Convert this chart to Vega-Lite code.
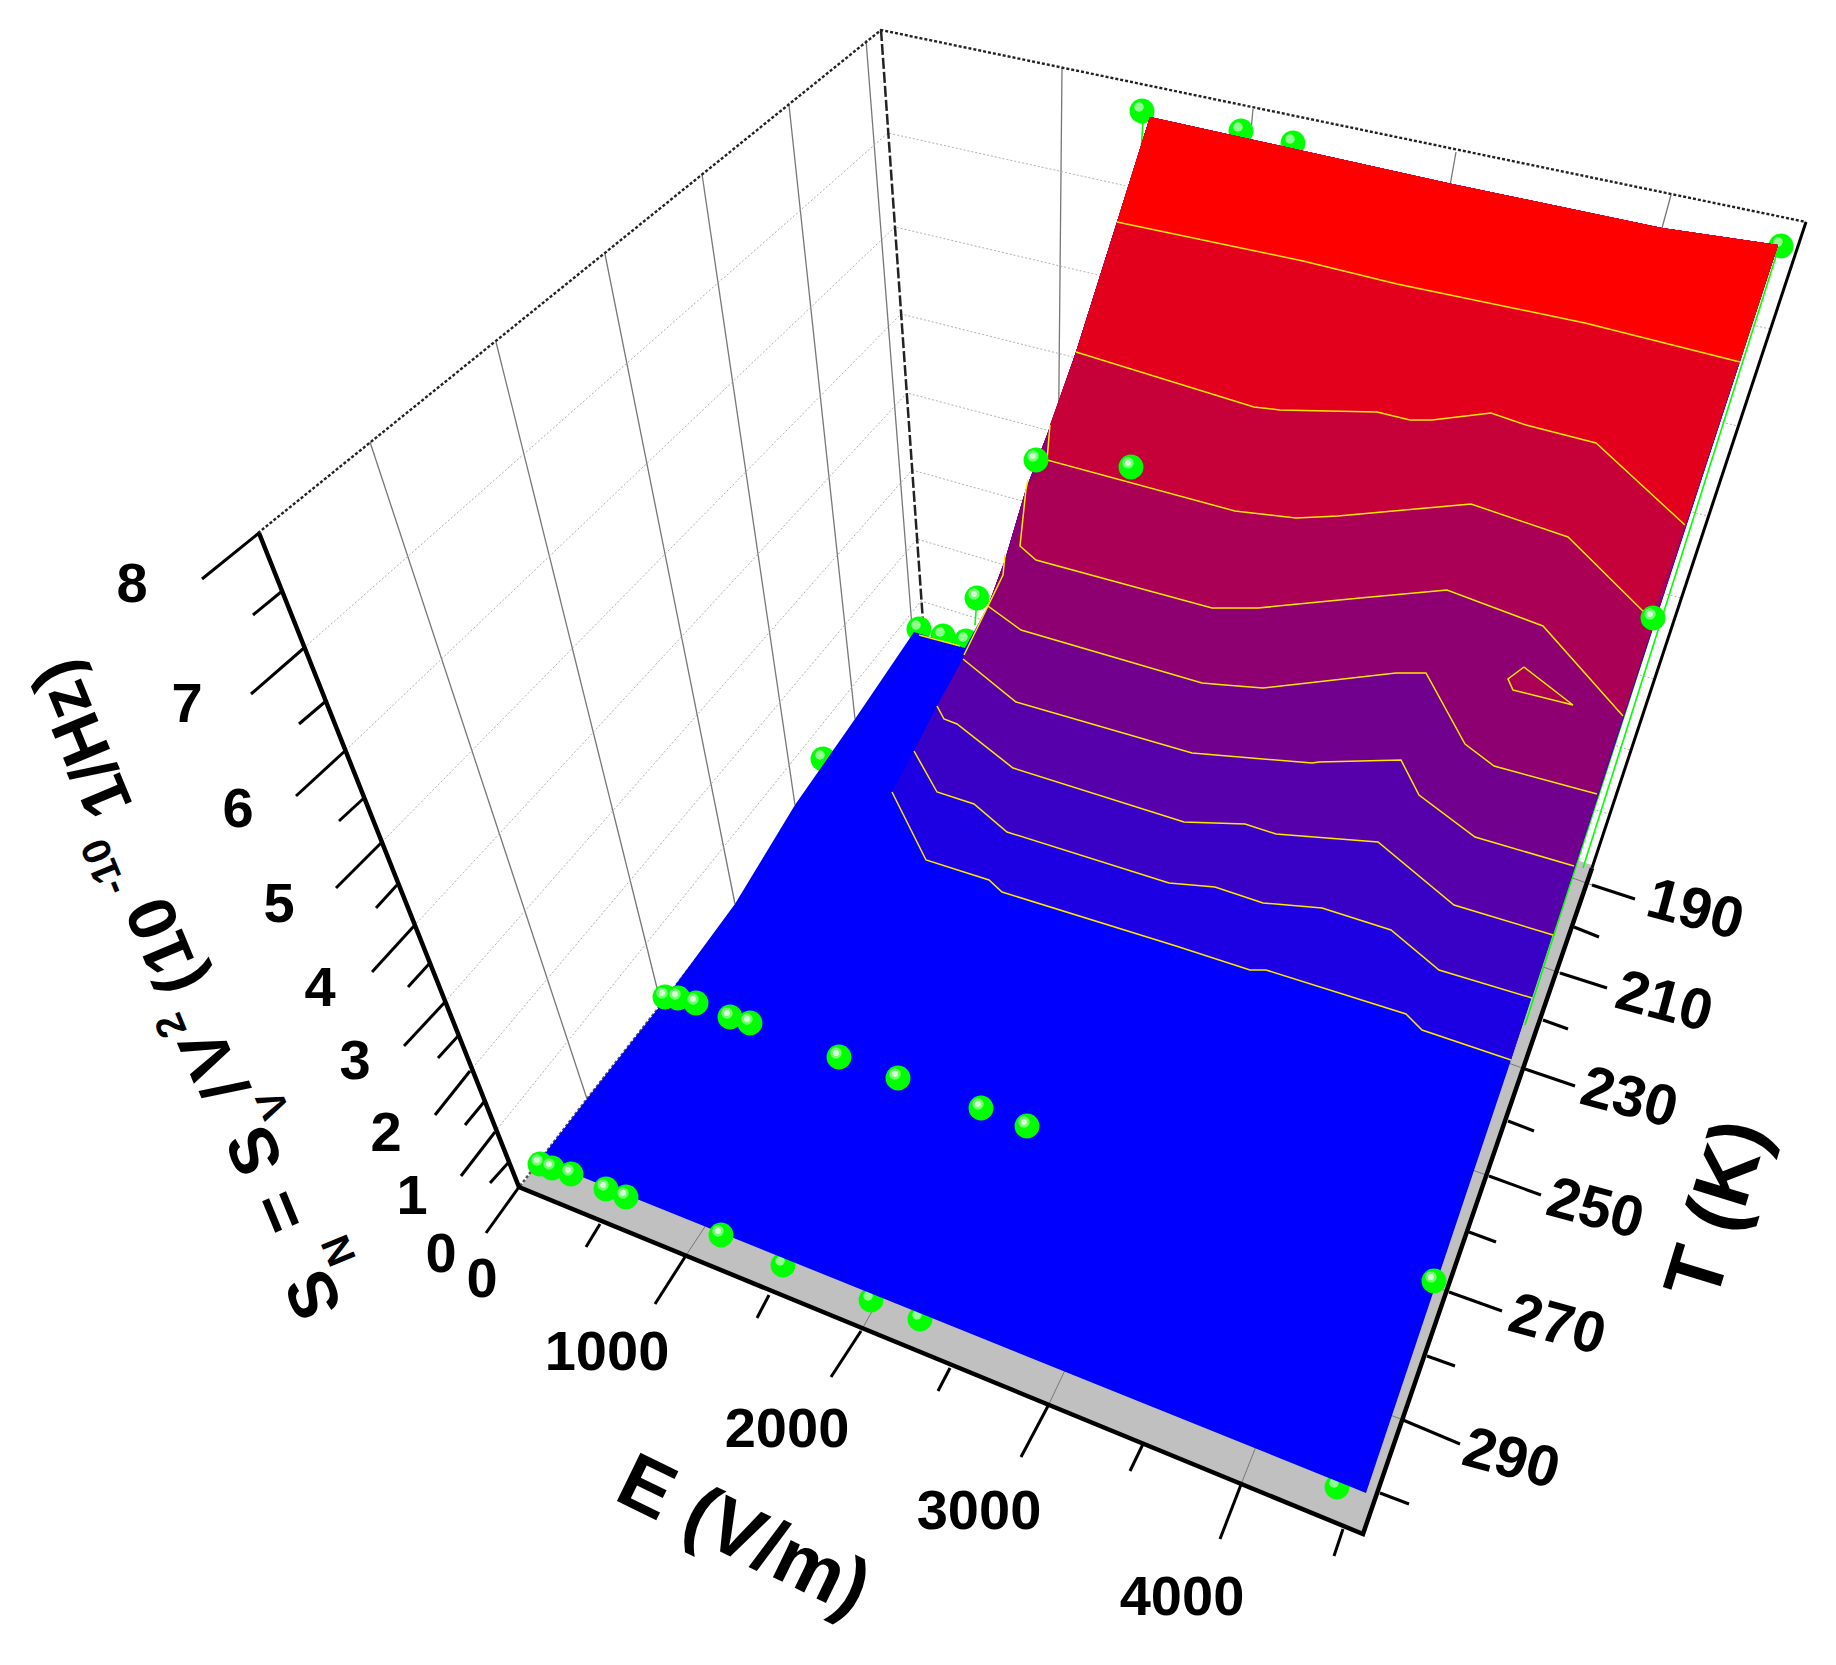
{
"$schema":"https://vega.github.io/schema/vega-lite/v6.json",
"width":1836,"height":1665,"padding":0,
"autosize":{"type":"fit","contains":"padding"},
"background":"#ffffff",
"config":{"view":{"stroke":null}},
"datasets":{
"wallGrid":[
{"id":"t290","px":370,"py":442},{"id":"t290","px":587,"py":1099},
{"id":"t270","px":496,"py":342},{"id":"t270","px":660,"py":1000},
{"id":"t250","px":605,"py":254},{"id":"t250","px":735,"py":904},
{"id":"t230","px":702,"py":174},{"id":"t230","px":795,"py":805},
{"id":"t210","px":789,"py":105},{"id":"t210","px":855,"py":719},
{"id":"t190","px":866,"py":40},{"id":"t190","px":913,"py":640},
{"id":"e1000","px":1062,"py":68},{"id":"e1000","px":1056,"py":692},
{"id":"e2000","px":1253,"py":109},{"id":"e2000","px":1195,"py":737},
{"id":"e3000","px":1456,"py":152},{"id":"e3000","px":1343,"py":785},
{"id":"e4000","px":1671,"py":195},{"id":"e4000","px":1497,"py":834}],
"wallDots":[
{"id":"s7","px":304,"py":648},{"id":"s7","px":888,"py":133},{"id":"s7","px":1770,"py":329},
{"id":"s6","px":346,"py":750},{"id":"s6","px":895,"py":227},{"id":"s6","px":1738,"py":426},
{"id":"s5","px":382,"py":842},{"id":"s5","px":901,"py":314},{"id":"s5","px":1708,"py":516},
{"id":"s4","px":414,"py":926},{"id":"s4","px":907,"py":393},{"id":"s4","px":1681,"py":598},
{"id":"s3","px":445,"py":1002},{"id":"s3","px":912,"py":470},{"id":"s3","px":1654,"py":679},
{"id":"s2","px":470,"py":1071},{"id":"s2","px":917,"py":539},{"id":"s2","px":1630,"py":750},
{"id":"s1","px":495,"py":1132},{"id":"s1","px":921,"py":601},{"id":"s1","px":1609,"py":814}],
"floorGrid":[
{"id":"e1","px":685,"py":1257},{"id":"e1","px":1056,"py":692},
{"id":"e2","px":861,"py":1331},{"id":"e2","px":1195,"py":737},
{"id":"e3","px":1048,"py":1406},{"id":"e3","px":1343,"py":785},
{"id":"e4","px":1242,"py":1482},{"id":"e4","px":1497,"py":834},
{"id":"t1","px":587,"py":1099},{"id":"t1","px":1403,"py":1420},
{"id":"t2","px":660,"py":1000},{"id":"t2","px":1449,"py":1292},
{"id":"t3","px":735,"py":904},{"id":"t3","px":1489,"py":1176},
{"id":"t4","px":795,"py":805},{"id":"t4","px":1525,"py":1069},
{"id":"t5","px":855,"py":719},{"id":"t5","px":1560,"py":973},
{"id":"t6","px":913,"py":640},{"id":"t6","px":1592,"py":885}],
"ticks":[
{"id":"z0","px":519,"py":1187},{"id":"z0","px":486,"py":1233},
{"id":"z1","px":495,"py":1132},{"id":"z1","px":461,"py":1176},
{"id":"z2","px":470,"py":1071},{"id":"z2","px":435,"py":1115},
{"id":"z3","px":445,"py":1002},{"id":"z3","px":404,"py":1046},
{"id":"z4","px":414,"py":926},{"id":"z4","px":372,"py":972},
{"id":"z5","px":382,"py":842},{"id":"z5","px":336,"py":888},
{"id":"z6","px":346,"py":750},{"id":"z6","px":296,"py":796},
{"id":"z7","px":304,"py":648},{"id":"z7","px":251,"py":694},
{"id":"z8","px":259,"py":533},{"id":"z8","px":202,"py":579},
{"id":"zm1","px":508,"py":1163},{"id":"zm1","px":490,"py":1183},
{"id":"zm2","px":484,"py":1102},{"id":"zm2","px":465,"py":1125},
{"id":"zm3","px":459,"py":1035},{"id":"zm3","px":438,"py":1058},
{"id":"zm4","px":429,"py":964},{"id":"zm4","px":408,"py":987},
{"id":"zm5","px":397,"py":885},{"id":"zm5","px":376,"py":908},
{"id":"zm6","px":364,"py":798},{"id":"zm6","px":339,"py":821},
{"id":"zm7","px":326,"py":701},{"id":"zm7","px":299,"py":724},
{"id":"zm8","px":281,"py":592},{"id":"zm8","px":253,"py":615},
{"id":"e1","px":685,"py":1257},{"id":"e1","px":655,"py":1304},
{"id":"e2","px":861,"py":1331},{"id":"e2","px":831,"py":1377},
{"id":"e3","px":1048,"py":1406},{"id":"e3","px":1021,"py":1457},
{"id":"e4","px":1242,"py":1482},{"id":"e4","px":1220,"py":1539},
{"id":"em1","px":600,"py":1224},{"id":"em1","px":586,"py":1247},
{"id":"em2","px":769,"py":1295},{"id":"em2","px":757,"py":1318},
{"id":"em3","px":950,"py":1368},{"id":"em3","px":938,"py":1391},
{"id":"em4","px":1143,"py":1444},{"id":"em4","px":1130,"py":1471},
{"id":"em5","px":1343,"py":1529},{"id":"em5","px":1334,"py":1556},
{"id":"t190","px":1592,"py":885},{"id":"t190","px":1635,"py":899},
{"id":"t210","px":1560,"py":973},{"id":"t210","px":1607,"py":988},
{"id":"t230","px":1525,"py":1069},{"id":"t230","px":1575,"py":1086},
{"id":"t250","px":1489,"py":1176},{"id":"t250","px":1541,"py":1195},
{"id":"t270","px":1449,"py":1292},{"id":"t270","px":1502,"py":1311},
{"id":"t290","px":1403,"py":1420},{"id":"t290","px":1460,"py":1444},
{"id":"tm1","px":1574,"py":927},{"id":"tm1","px":1599,"py":937},
{"id":"tm2","px":1543,"py":1020},{"id":"tm2","px":1568,"py":1029},
{"id":"tm3","px":1508,"py":1121},{"id":"tm3","px":1534,"py":1131},
{"id":"tm4","px":1469,"py":1232},{"id":"tm4","px":1496,"py":1242},
{"id":"tm5","px":1427,"py":1356},{"id":"tm5","px":1455,"py":1366},
{"id":"tm6","px":1380,"py":1493},{"id":"tm6","px":1409,"py":1504}],
"surface":[
{"p":0,"level":0,"px":540,"py":1160},{"p":0,"level":0,"px":1366,"py":1493},{"p":0,"level":0,"px":1511,"py":1060},{"p":0,"level":0,"px":1778,"py":245},{"p":0,"level":0,"px":1662,"py":228},{"p":0,"level":0,"px":1452,"py":184},{"p":0,"level":0,"px":1150,"py":117},{"p":0,"level":0,"px":1117,"py":222},{"p":0,"level":0,"px":1076,"py":352},{"p":0,"level":0,"px":1047,"py":435},{"p":0,"level":0,"px":1026,"py":489},{"p":0,"level":0,"px":1005,"py":560},{"p":0,"level":0,"px":988,"py":606},{"p":0,"level":0,"px":965,"py":648},{"p":0,"level":0,"px":914,"py":632},{"p":0,"level":0,"px":855,"py":719},{"p":0,"level":0,"px":795,"py":805},{"p":0,"level":0,"px":735,"py":904},{"p":0,"level":0,"px":660,"py":1006},{"p":0,"level":0,"px":587,"py":1099},
{"p":1,"level":1,"px":892,"py":792},{"p":1,"level":1,"px":926,"py":860},{"p":1,"level":1,"px":989,"py":880},{"p":1,"level":1,"px":1002,"py":892},{"p":1,"level":1,"px":1176,"py":946},{"p":1,"level":1,"px":1250,"py":970},{"p":1,"level":1,"px":1266,"py":970},{"p":1,"level":1,"px":1406,"py":1014},{"p":1,"level":1,"px":1422,"py":1030},{"p":1,"level":1,"px":1511,"py":1060},{"p":1,"level":1,"px":1778,"py":245},{"p":1,"level":1,"px":1662,"py":228},{"p":1,"level":1,"px":1452,"py":184},{"p":1,"level":1,"px":1150,"py":117},{"p":1,"level":1,"px":1117,"py":222},{"p":1,"level":1,"px":1076,"py":352},{"p":1,"level":1,"px":1047,"py":435},{"p":1,"level":1,"px":1026,"py":489},{"p":1,"level":1,"px":1005,"py":560},{"p":1,"level":1,"px":988,"py":606},{"p":1,"level":1,"px":963,"py":659},{"p":1,"level":1,"px":937,"py":706},{"p":1,"level":1,"px":914,"py":751},
{"p":2,"level":2,"px":914,"py":751},{"p":2,"level":2,"px":937,"py":792},{"p":2,"level":2,"px":974,"py":804},{"p":2,"level":2,"px":1007,"py":832},{"p":2,"level":2,"px":1169,"py":883},{"p":2,"level":2,"px":1215,"py":887},{"p":2,"level":2,"px":1263,"py":903},{"p":2,"level":2,"px":1322,"py":908},{"p":2,"level":2,"px":1391,"py":930},{"p":2,"level":2,"px":1439,"py":970},{"p":2,"level":2,"px":1532,"py":998},{"p":2,"level":2,"px":1778,"py":245},{"p":2,"level":2,"px":1662,"py":228},{"p":2,"level":2,"px":1452,"py":184},{"p":2,"level":2,"px":1150,"py":117},{"p":2,"level":2,"px":1117,"py":222},{"p":2,"level":2,"px":1076,"py":352},{"p":2,"level":2,"px":1047,"py":435},{"p":2,"level":2,"px":1026,"py":489},{"p":2,"level":2,"px":1005,"py":560},{"p":2,"level":2,"px":988,"py":606},{"p":2,"level":2,"px":963,"py":659},{"p":2,"level":2,"px":937,"py":706},
{"p":3,"level":3,"px":937,"py":706},{"p":3,"level":3,"px":944,"py":719},{"p":3,"level":3,"px":957,"py":724},{"p":3,"level":3,"px":1013,"py":768},{"p":3,"level":3,"px":1184,"py":822},{"p":3,"level":3,"px":1245,"py":824},{"p":3,"level":3,"px":1276,"py":834},{"p":3,"level":3,"px":1378,"py":842},{"p":3,"level":3,"px":1454,"py":905},{"p":3,"level":3,"px":1553,"py":935},{"p":3,"level":3,"px":1778,"py":245},{"p":3,"level":3,"px":1662,"py":228},{"p":3,"level":3,"px":1452,"py":184},{"p":3,"level":3,"px":1150,"py":117},{"p":3,"level":3,"px":1117,"py":222},{"p":3,"level":3,"px":1076,"py":352},{"p":3,"level":3,"px":1047,"py":435},{"p":3,"level":3,"px":1026,"py":489},{"p":3,"level":3,"px":1005,"py":560},{"p":3,"level":3,"px":988,"py":606},{"p":3,"level":3,"px":963,"py":659},
{"p":4,"level":4,"px":963,"py":659},{"p":4,"level":4,"px":1016,"py":702},{"p":4,"level":4,"px":1192,"py":753},{"p":4,"level":4,"px":1312,"py":763},{"p":4,"level":4,"px":1319,"py":762},{"p":4,"level":4,"px":1401,"py":760},{"p":4,"level":4,"px":1419,"py":795},{"p":4,"level":4,"px":1475,"py":837},{"p":4,"level":4,"px":1574,"py":866},{"p":4,"level":4,"px":1778,"py":245},{"p":4,"level":4,"px":1662,"py":228},{"p":4,"level":4,"px":1452,"py":184},{"p":4,"level":4,"px":1150,"py":117},{"p":4,"level":4,"px":1117,"py":222},{"p":4,"level":4,"px":1076,"py":352},{"p":4,"level":4,"px":1047,"py":435},{"p":4,"level":4,"px":1026,"py":489},{"p":4,"level":4,"px":1005,"py":560},{"p":4,"level":4,"px":988,"py":606},
{"p":5,"level":5,"px":988,"py":606},{"p":5,"level":5,"px":1021,"py":630},{"p":5,"level":5,"px":1202,"py":683},{"p":5,"level":5,"px":1225,"py":685},{"p":5,"level":5,"px":1263,"py":688},{"p":5,"level":5,"px":1396,"py":673},{"p":5,"level":5,"px":1426,"py":673},{"p":5,"level":5,"px":1465,"py":744},{"p":5,"level":5,"px":1494,"py":766},{"p":5,"level":5,"px":1597,"py":794},{"p":5,"level":5,"px":1778,"py":245},{"p":5,"level":5,"px":1662,"py":228},{"p":5,"level":5,"px":1452,"py":184},{"p":5,"level":5,"px":1150,"py":117},{"p":5,"level":5,"px":1117,"py":222},{"p":5,"level":5,"px":1076,"py":352},{"p":5,"level":5,"px":1047,"py":435},{"p":5,"level":5,"px":1026,"py":489},{"p":5,"level":5,"px":1005,"py":560},
{"p":6,"level":6,"px":1026,"py":489},{"p":6,"level":6,"px":1020,"py":546},{"p":6,"level":6,"px":1036,"py":560},{"p":6,"level":6,"px":1212,"py":608},{"p":6,"level":6,"px":1258,"py":608},{"p":6,"level":6,"px":1360,"py":598},{"p":6,"level":6,"px":1447,"py":590},{"p":6,"level":6,"px":1543,"py":626},{"p":6,"level":6,"px":1623,"py":716},{"p":6,"level":6,"px":1778,"py":245},{"p":6,"level":6,"px":1662,"py":228},{"p":6,"level":6,"px":1452,"py":184},{"p":6,"level":6,"px":1150,"py":117},{"p":6,"level":6,"px":1117,"py":222},{"p":6,"level":6,"px":1076,"py":352},{"p":6,"level":6,"px":1050,"py":425},{"p":6,"level":6,"px":1047,"py":460},
{"p":61,"level":6,"px":1524,"py":667},{"p":61,"level":6,"px":1508,"py":679},{"p":61,"level":6,"px":1513,"py":690},{"p":61,"level":6,"px":1573,"py":705},
{"p":7,"level":7,"px":1047,"py":460},{"p":7,"level":7,"px":1235,"py":511},{"p":7,"level":7,"px":1296,"py":518},{"p":7,"level":7,"px":1338,"py":516},{"p":7,"level":7,"px":1471,"py":504},{"p":7,"level":7,"px":1568,"py":537},{"p":7,"level":7,"px":1650,"py":618},{"p":7,"level":7,"px":1685,"py":525},{"p":7,"level":7,"px":1778,"py":245},{"p":7,"level":7,"px":1662,"py":228},{"p":7,"level":7,"px":1452,"py":184},{"p":7,"level":7,"px":1150,"py":117},{"p":7,"level":7,"px":1117,"py":222},{"p":7,"level":7,"px":1076,"py":352},{"p":7,"level":7,"px":1050,"py":425},
{"p":8,"level":8,"px":1076,"py":352},{"p":8,"level":8,"px":1254,"py":407},{"p":8,"level":8,"px":1280,"py":410},{"p":8,"level":8,"px":1377,"py":412},{"p":8,"level":8,"px":1410,"py":420},{"p":8,"level":8,"px":1432,"py":420},{"p":8,"level":8,"px":1491,"py":413},{"p":8,"level":8,"px":1526,"py":425},{"p":8,"level":8,"px":1596,"py":443},{"p":8,"level":8,"px":1685,"py":525},{"p":8,"level":8,"px":1778,"py":245},{"p":8,"level":8,"px":1662,"py":228},{"p":8,"level":8,"px":1452,"py":184},{"p":8,"level":8,"px":1150,"py":117},{"p":8,"level":8,"px":1117,"py":222},
{"p":9,"level":9,"px":1117,"py":222},{"p":9,"level":9,"px":1303,"py":261},{"p":9,"level":9,"px":1397,"py":284},{"p":9,"level":9,"px":1585,"py":323},{"p":9,"level":9,"px":1740,"py":362},{"p":9,"level":9,"px":1778,"py":245},{"p":9,"level":9,"px":1662,"py":228},{"p":9,"level":9,"px":1452,"py":184},{"p":9,"level":9,"px":1150,"py":117}],
"contours":[
{"c":1,"px":892,"py":792},{"c":1,"px":926,"py":860},{"c":1,"px":989,"py":880},{"c":1,"px":1002,"py":892},{"c":1,"px":1176,"py":946},{"c":1,"px":1250,"py":970},{"c":1,"px":1266,"py":970},{"c":1,"px":1406,"py":1014},{"c":1,"px":1422,"py":1030},{"c":1,"px":1511,"py":1060},
{"c":2,"px":914,"py":751},{"c":2,"px":937,"py":792},{"c":2,"px":974,"py":804},{"c":2,"px":1007,"py":832},{"c":2,"px":1169,"py":883},{"c":2,"px":1215,"py":887},{"c":2,"px":1263,"py":903},{"c":2,"px":1322,"py":908},{"c":2,"px":1391,"py":930},{"c":2,"px":1439,"py":970},{"c":2,"px":1532,"py":998},
{"c":3,"px":937,"py":706},{"c":3,"px":944,"py":719},{"c":3,"px":957,"py":724},{"c":3,"px":1013,"py":768},{"c":3,"px":1184,"py":822},{"c":3,"px":1245,"py":824},{"c":3,"px":1276,"py":834},{"c":3,"px":1378,"py":842},{"c":3,"px":1454,"py":905},{"c":3,"px":1553,"py":935},
{"c":4,"px":963,"py":659},{"c":4,"px":1016,"py":702},{"c":4,"px":1192,"py":753},{"c":4,"px":1312,"py":763},{"c":4,"px":1319,"py":762},{"c":4,"px":1401,"py":760},{"c":4,"px":1419,"py":795},{"c":4,"px":1475,"py":837},{"c":4,"px":1574,"py":866},
{"c":5,"px":1005,"py":555},{"c":5,"px":1003,"py":575},{"c":5,"px":988,"py":606},{"c":5,"px":1021,"py":630},{"c":5,"px":1202,"py":683},{"c":5,"px":1225,"py":685},{"c":5,"px":1263,"py":688},{"c":5,"px":1396,"py":673},{"c":5,"px":1426,"py":673},{"c":5,"px":1465,"py":744},{"c":5,"px":1494,"py":766},{"c":5,"px":1597,"py":794},
{"c":51,"px":988,"py":606},{"c":51,"px":964,"py":655},
{"c":52,"px":919,"py":635},{"c":52,"px":960,"py":646},
{"c":6,"px":1028,"py":480},{"c":6,"px":1026,"py":489},{"c":6,"px":1020,"py":546},{"c":6,"px":1036,"py":560},{"c":6,"px":1212,"py":608},{"c":6,"px":1258,"py":608},{"c":6,"px":1360,"py":598},{"c":6,"px":1447,"py":590},{"c":6,"px":1543,"py":626},{"c":6,"px":1623,"py":716},
{"c":61,"px":1524,"py":667},{"c":61,"px":1508,"py":679},{"c":61,"px":1513,"py":690},{"c":61,"px":1573,"py":705},{"c":61,"px":1524,"py":667},
{"c":7,"px":1050,"py":425},{"c":7,"px":1047,"py":460},{"c":7,"px":1235,"py":511},{"c":7,"px":1296,"py":518},{"c":7,"px":1338,"py":516},{"c":7,"px":1471,"py":504},{"c":7,"px":1568,"py":537},{"c":7,"px":1650,"py":618},
{"c":8,"px":1076,"py":352},{"c":8,"px":1254,"py":407},{"c":8,"px":1280,"py":410},{"c":8,"px":1377,"py":412},{"c":8,"px":1410,"py":420},{"c":8,"px":1432,"py":420},{"c":8,"px":1491,"py":413},{"c":8,"px":1526,"py":425},{"c":8,"px":1596,"py":443},{"c":8,"px":1685,"py":525},
{"c":9,"px":1117,"py":222},{"c":9,"px":1303,"py":261},{"c":9,"px":1397,"py":284},{"c":9,"px":1585,"py":323},{"c":9,"px":1740,"py":362}],
"pins":[
{"id":"a","px":1143,"py":121},{"id":"a","px":1141,"py":153},
{"id":"b","px":1037,"py":464},{"id":"b","px":1037,"py":486},
{"id":"c","px":977,"py":598},{"id":"c","px":975,"py":625},
{"id":"d","px":1778,"py":250},{"id":"d","px":1583,"py":868},
{"id":"e","px":1655,"py":620},{"id":"e","px":1525,"py":1025}],
"spheresBack":[
{"px":1142,"py":111},{"px":1241,"py":131},{"px":1293,"py":143},{"px":1781,"py":246},{"px":919,"py":629},{"px":943,"py":636},{"px":966,"py":641},{"px":823,"py":759},{"px":896,"py":785},{"px":783,"py":1265},{"px":871,"py":1300},{"px":920,"py":1319},{"px":1337,"py":1487}],
"spheresFront":[
{"px":1036,"py":460},{"px":1131,"py":467},{"px":1653,"py":618},{"px":977,"py":598},
{"px":665,"py":997},{"px":678,"py":998},{"px":696,"py":1003},{"px":730,"py":1017},{"px":750,"py":1023},{"px":839,"py":1057},{"px":898,"py":1078},{"px":981,"py":1108},{"px":1027,"py":1126},
{"px":540,"py":1164},{"px":552,"py":1168},{"px":571,"py":1174},{"px":606,"py":1189},{"px":626,"py":1197},{"px":721,"py":1235},{"px":1434,"py":1281}]
},
"encoding":{
"x":{"field":"px","type":"quantitative","axis":null,"scale":{"domain":[0,1836],"nice":false,"zero":false}},
"y":{"field":"py","type":"quantitative","axis":null,"scale":{"domain":[1665,0],"nice":false,"zero":false}}
},
"layer":[
{"data":{"name":"wallGrid"},"transform":[{"window":[{"op":"row_number","as":"seq"}]}],"mark":{"type":"line","stroke":"#777777","strokeWidth":1.3},"encoding":{"detail":{"field":"id"},"order":{"field":"seq","type":"quantitative"}}},
{"data":{"name":"wallDots"},"transform":[{"window":[{"op":"row_number","as":"seq"}]}],"mark":{"type":"line","stroke":"#b0b0b0","strokeWidth":1,"strokeDash":[2,2]},"encoding":{"detail":{"field":"id"},"order":{"field":"seq","type":"quantitative"}}},
{"data":{"values":[{"id":"a","px":258,"py":533},{"id":"a","px":881,"py":30},{"id":"a","px":1806,"py":222}]},"transform":[{"window":[{"op":"row_number","as":"seq"}]}],"mark":{"type":"line","stroke":"#222222","strokeWidth":2.4,"strokeDash":[3,2]},"encoding":{"detail":{"field":"id"},"order":{"field":"seq","type":"quantitative"}}},
{"data":{"values":[{"id":"b","px":881,"py":30},{"id":"b","px":925,"py":650}]},"transform":[{"window":[{"op":"row_number","as":"seq"}]}],"mark":{"type":"line","stroke":"#222222","strokeWidth":2.5,"strokeDash":[11,3]},"encoding":{"detail":{"field":"id"},"order":{"field":"seq","type":"quantitative"}}},
{"data":{"values":[{"px":519,"py":1189},{"px":1363,"py":1534},{"px":1592,"py":865},{"px":925,"py":650},{"px":913,"py":638},{"px":855,"py":719},{"px":795,"py":805},{"px":735,"py":904},{"px":660,"py":1006},{"px":587,"py":1099}]},"transform":[{"window":[{"op":"row_number","as":"seq"}]}],"mark":{"type":"line","fill":"#c0c0c0","strokeWidth":0},"encoding":{"order":{"field":"seq","type":"quantitative"}}},
{"data":{"name":"floorGrid"},"transform":[{"window":[{"op":"row_number","as":"seq"}]}],"mark":{"type":"line","stroke":"#777777","strokeWidth":1},"encoding":{"detail":{"field":"id"},"order":{"field":"seq","type":"quantitative"}}},
{"data":{"values":[{"px":520,"py":1186},{"px":587,"py":1099},{"px":660,"py":1006},{"px":707,"py":945}]},"transform":[{"window":[{"op":"row_number","as":"seq"}]}],"mark":{"type":"line","stroke":"#555555","strokeWidth":2.5,"strokeDash":[3,2]},"encoding":{"order":{"field":"seq","type":"quantitative"}}},
{"data":{"name":"ticks"},"transform":[{"window":[{"op":"row_number","as":"seq"}]}],"mark":{"type":"line","stroke":"#000000","strokeWidth":3},"encoding":{"detail":{"field":"id"},"order":{"field":"seq","type":"quantitative"}}},
{"data":{"values":[{"id":"z","px":259,"py":533},{"id":"z","px":519,"py":1187},{"id":"z","px":1363,"py":1534},{"id":"z","px":1592,"py":868}]},"transform":[{"window":[{"op":"row_number","as":"seq"}]}],"mark":{"type":"line","stroke":"#000000","strokeWidth":4.5,"strokeJoin":"miter"},"encoding":{"order":{"field":"seq","type":"quantitative"}}},
{"data":{"values":[{"px":1592,"py":868},{"px":1806,"py":222}]},"transform":[{"window":[{"op":"row_number","as":"seq"}]}],"mark":{"type":"line","stroke":"#000000","strokeWidth":3},"encoding":{"order":{"field":"seq","type":"quantitative"}}},
{"data":{"name":"pins"},"transform":[{"window":[{"op":"row_number","as":"seq"}]}],"mark":{"type":"line","stroke":"#00ff00","strokeWidth":1.6},"encoding":{"detail":{"field":"id"},"order":{"field":"seq","type":"quantitative"}}},
{"data":{"name":"spheresBack"},"mark":{"type":"circle","color":"#00ff00","opacity":1,"size":620}},
{"data":{"name":"spheresBack"},"mark":{"type":"circle","color":"#90ff90","opacity":1,"size":90,"xOffset":-3,"yOffset":-4}},
{"data":{"name":"surface"},"transform":[{"window":[{"op":"row_number","as":"seq"}]}],"mark":{"type":"line","strokeWidth":0,"strokeOpacity":0},"encoding":{"detail":{"field":"p"},"order":{"field":"seq","type":"quantitative"},"fill":{"field":"level","type":"ordinal","legend":null,"scale":{"domain":[0,1,2,3,4,5,6,7,8,9],"range":["#0000ff","#1c00e3","#3900c6","#5500aa","#71008e","#8e0071","#aa0055","#c60039","#e3001c","#ff0000"]}}}},
{"data":{"name":"contours"},"transform":[{"window":[{"op":"row_number","as":"seq"}]}],"mark":{"type":"line","stroke":"#ffe800","strokeWidth":1.5},"encoding":{"detail":{"field":"c"},"order":{"field":"seq","type":"quantitative"}}},
{"data":{"name":"spheresFront"},"mark":{"type":"circle","color":"#00ff00","opacity":1,"size":620}},
{"data":{"name":"spheresFront"},"mark":{"type":"circle","color":"#70ff70","opacity":1,"size":130,"xOffset":-3,"yOffset":-4}},
{"data":{"name":"spheresFront"},"mark":{"type":"circle","color":"#d8ffd8","opacity":1,"size":35,"xOffset":-3,"yOffset":-4}},
{"data":{"values":[{"t":"0","px":482,"py":1280},{"t":"1000","px":607,"py":1353},{"t":"2000","px":787,"py":1430},{"t":"3000","px":979,"py":1512},{"t":"4000","px":1182,"py":1598},{"t":"0","px":441,"py":1255},{"t":"1","px":412,"py":1197},{"t":"2","px":386,"py":1134},{"t":"3","px":355,"py":1062},{"t":"4","px":320,"py":989},{"t":"5","px":279,"py":905},{"t":"6","px":238,"py":810},{"t":"7","px":187,"py":705},{"t":"8","px":132,"py":585}]},"mark":{"type":"text","font":"Liberation Sans","fontWeight":"bold","fontSize":56,"color":"#000000","align":"center","baseline":"middle"},"encoding":{"text":{"field":"t"}}},
{"data":{"values":[{"t":"190","px":1695,"py":911},{"t":"210","px":1664,"py":1003},{"t":"230","px":1629,"py":1099},{"t":"250","px":1595,"py":1210},{"t":"270","px":1557,"py":1326},{"t":"290","px":1511,"py":1460}]},"mark":{"type":"text","font":"Liberation Sans","fontWeight":"bold","fontSize":58,"angle":15,"color":"#000000","align":"center","baseline":"middle"},"encoding":{"text":{"field":"t"}}},
{"data":{"values":[{"t":"E (V/m)","px":743,"py":1537}]},"mark":{"type":"text","font":"Liberation Sans","fontWeight":"bold","fontSize":78,"angle":26,"color":"#000000","align":"center","baseline":"middle"},"encoding":{"text":{"field":"t"}}},
{"data":{"values":[{"t":"T (K)","px":1719,"py":1210}]},"mark":{"type":"text","font":"Liberation Sans","fontWeight":"bold","fontSize":80,"angle":-73,"color":"#000000","align":"center","baseline":"middle"},"encoding":{"text":{"field":"t"}}},
{"data":{"values":[{"t":"S","px":316,"py":1294},{"t":"=","px":283,"py":1211},{"t":"S","px":257,"py":1150},{"t":"/","px":229,"py":1088},{"t":"V","px":210,"py":1053},{"t":"(10","px":167,"py":945},{"t":"1/Hz)","px":84,"py":738}]},"mark":{"type":"text","font":"Liberation Sans","fontWeight":"bold","fontSize":68,"angle":-112.5,"color":"#000000","align":"center","baseline":"middle"},"encoding":{"text":{"field":"t"}}},
{"data":{"values":[{"t":"N","px":340,"py":1250},{"t":"V","px":274,"py":1104},{"t":"2","px":172,"py":1025},{"t":"-10","px":105,"py":867}]},"mark":{"type":"text","font":"Liberation Sans","fontWeight":"bold","fontSize":40,"angle":-112.5,"color":"#000000","align":"center","baseline":"middle"},"encoding":{"text":{"field":"t"}}}
]
}
